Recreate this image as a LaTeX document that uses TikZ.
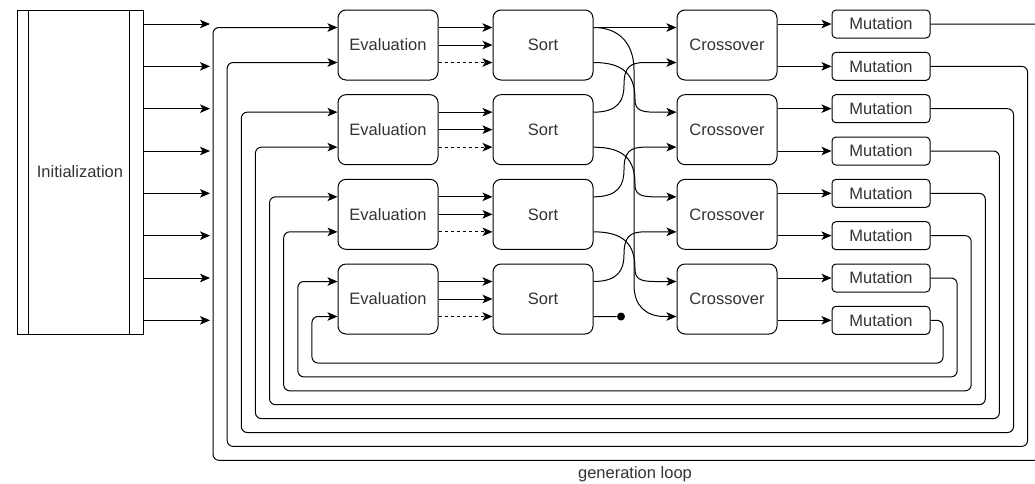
\documentclass[tikz,border=0pt]{standalone}
\usepackage{fontspec}
\setmainfont{Liberation Sans}
\usetikzlibrary{arrows.meta}
\begin{document}
\begin{tikzpicture}[x=1pt,y=-1pt,line width=1pt,
  lbl/.style={text=black!80,font=\fontsize{16.5}{19}\selectfont},
  box/.style={lbl,draw,rounded corners=8pt,minimum width=100pt,minimum height=70pt,inner sep=0pt},
  mbox/.style={lbl,draw,rounded corners=4pt,minimum width=98pt,minimum height=28pt,inner sep=0pt},
  initbox/.style={lbl,draw,minimum width=126pt,minimum height=324pt,inner sep=0pt},
  arr/.style={-{Stealth[length=10pt,width=8.5pt,inset=2.5pt]}},
  dashline/.style={dash pattern=on 3pt off 3pt},
  dot/.style={circle,fill,inner sep=0pt,minimum size=8pt}
]
\useasboundingbox (0,0) rectangle (1035,483);
\clip (0,0) rectangle (1035,483);

% Initialization
\node[initbox] (I) at (80,172) {Initialization};
\draw ([xshift=12pt]I.north west) -- ([xshift=12pt]I.south west);
\draw ([xshift=-14pt]I.north east) -- ([xshift=-14pt]I.south east);

% rows
\foreach \r in {0,...,3}{
  \pgfmathsetmacro{\cy}{45+84.667*\r}
  \node[box] (E\r) at (388,\cy) {Evaluation};
  \node[box] (S\r) at (543,\cy) {Sort};
  \node[box] (C\r) at (727,\cy) {Crossover};
  \draw[arr] ([yshift=17.5pt]E\r.east) -- ([yshift=17.5pt]S\r.west);
  \draw[arr] (E\r.east) -- (S\r.west);
  \draw[arr,dashline] ([yshift=-17.5pt]E\r.east) -- ([yshift=-17.5pt]S\r.west);
}

% sort -> crossover
\draw[arr] ([yshift=17.5pt]S0.east) -- ([yshift=17.5pt]C0.west);
\foreach \a/\b in {0/1,1/2,2/3}{
  \pgfmathsetmacro{\ya}{45+84.667*\a+17.5}
  \pgfmathsetmacro{\yb}{45+84.667*\b-17.5}
  % lower output of upper sort -> upper input of lower crossover
  \draw[arr] ([yshift=-17.5pt]S\a.east) .. controls +(30,0) and +(0,-25) .. (635,{\ya+37})
     .. controls +(0,10) and +(-15,0) .. (655,\yb) -- ([yshift=17.5pt]C\b.west);
  % upper output of lower sort -> lower input of upper crossover
  \draw[arr] ([yshift=17.5pt]S\b.east) .. controls +(25,0) and +(0,15) .. (624,{\yb-27})
     .. controls +(0,-18) and +(-15,0) .. (645,\ya) -- ([yshift=-17.5pt]C\a.west);
}
\coordinate (L1) at (634,70);
\coordinate (L2) at (634,285);
\coordinate (L3) at (665,316.5);
\draw[arr] ([yshift=17.5pt]S0.east) .. controls +(27,0) and +(0,-25) .. (L1) -- (L2)
   .. controls +(0,20) and +(-20,0) .. (L3) -- ([yshift=-17.5pt]C3.west);
\node[dot] (D) at (621,316.5) {};
\draw ([yshift=-17.5pt]S3.east) -- (D);

% mutations and loops
\foreach \k in {0,...,7}{
  \pgfmathsetmacro{\my}{24+42.333*\k}
  \pgfmathtruncatemacro{\rr}{int(\k/2)}
  \node[mbox] (M\k) at (881,\my) {Mutation};
  \coordinate (T\k) at (210,\my);
  \draw[arr] (I.east |- M\k.west) -- (T\k);
  \draw[arr] (C\rr.east |- M\k.west) -- (M\k.west);
  \pgfmathsetmacro{\xr}{943+14.1*(7-\k)}
  \pgfmathsetmacro{\yb}{363+13.9*(7-\k)}
  \pgfmathsetmacro{\xl}{213+14.14*\k}
  \pgfmathsetmacro{\sh}{ifthenelse(mod(\k,2)==0,17.5,-17.5)}
  \pgfmathsetmacro{\ey}{45+84.667*\rr-\sh}
  \draw[arr,rounded corners=6pt] (M\k.east) -| (\xr,\yb) -| (\xl,\ey) -- ([yshift=\sh pt]E\rr.west);
}

\node[lbl] (G) at (635,474) {generation loop};
\end{tikzpicture}
\end{document}
